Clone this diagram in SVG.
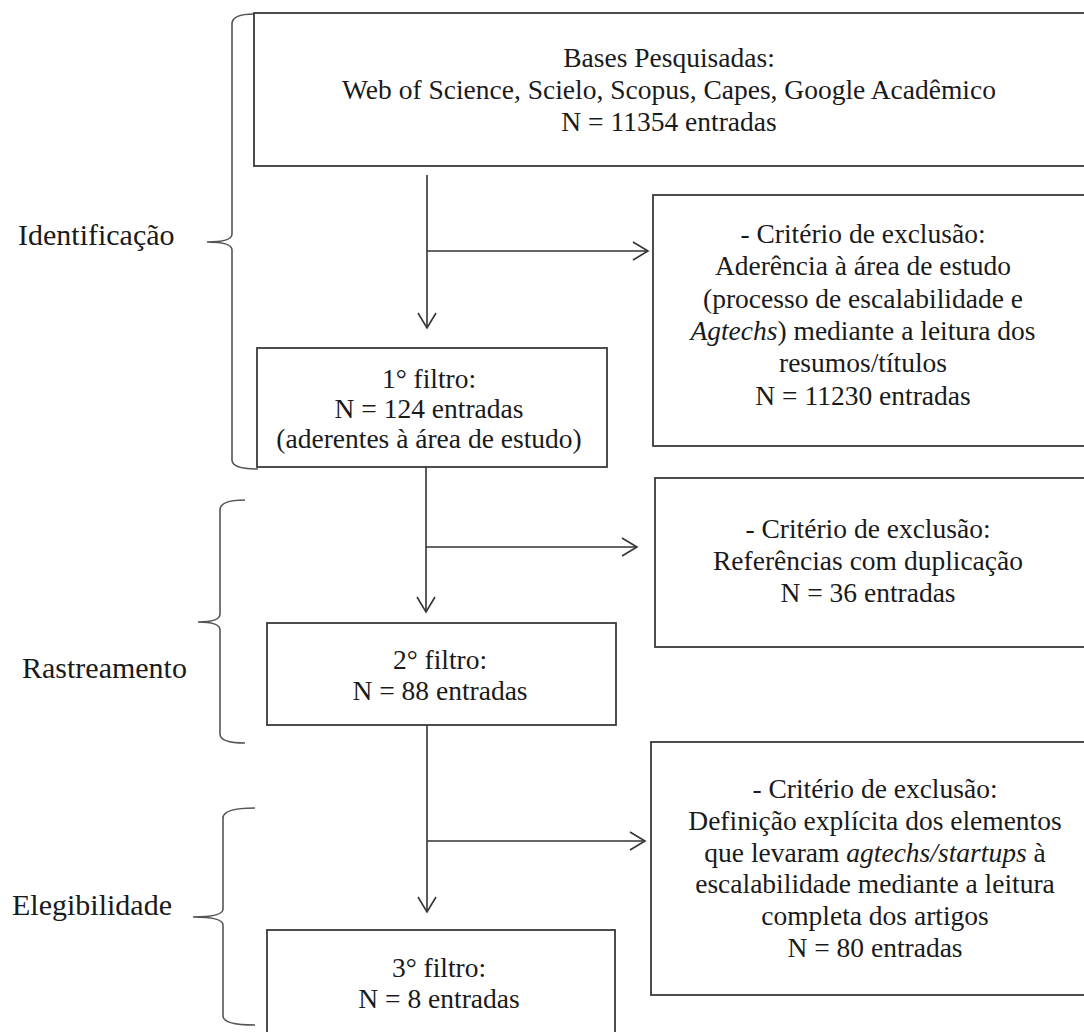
<svg xmlns="http://www.w3.org/2000/svg" width="1084" height="1032" viewBox="0 0 1084 1032">
<defs>
<style>
.box{fill:#fff;stroke:#3a3a3a;stroke-width:1.8}
.t{font-family:"Liberation Serif","Times New Roman",serif;font-size:27.5px;fill:#1a1a1a;text-anchor:middle}
.lbl{font-family:"Liberation Serif","Times New Roman",serif;font-size:30px;fill:#1a1a1a}
.ln{fill:none;stroke:#333;stroke-width:1.6}
.br{fill:none;stroke:#555;stroke-width:1.6}
</style>
<marker id="ah" viewBox="0 0 20 20" refX="16" refY="10" markerWidth="20" markerHeight="20" markerUnits="userSpaceOnUse" orient="auto">
<path d="M1,1 L16,10 L1,19" fill="none" stroke="#333" stroke-width="1.6"/>
</marker>
</defs>
<rect width="1084" height="1032" fill="#fff"/>

<g id="labels">
<text class="lbl" x="18" y="245">Identificação</text>
<text class="lbl" x="22" y="678">Rastreamento</text>
<text class="lbl" x="12" y="915">Elegibilidade</text>
</g>

<g id="braces">
<path class="br" d="M254,14 Q232,14 232,24 L232,234 Q232,242 207,242 Q232,242 232,250 L232,460 Q232,469 258,469"/>
<path class="br" d="M245,500 Q220,500 220,510 L220,614 Q220,622 198,622 Q220,622 220,630 L220,734 Q220,743 245,743"/>
<path class="br" d="M255,808 Q223,808 223,818 L223,909 Q223,917 193,917 Q223,917 223,925 L223,1016 Q223,1025 255,1025"/>
</g>

<g id="node-bases">
<rect class="box" x="254" y="13" width="840" height="153"/>
<text class="t" x="669" y="67">Bases Pesquisadas:</text>
<text class="t" x="669" y="99">Web of Science, Scielo, Scopus, Capes, Google Acadêmico</text>
<text class="t" x="669" y="131">N = 11354 entradas</text>
</g>

<g id="node-excl1">
<rect class="box" x="653" y="195" width="440" height="251"/>
<text class="t" x="863" y="243">- Critério de exclusão:</text>
<text class="t" x="863" y="275">Aderência à área de estudo</text>
<text class="t" x="863" y="308">(processo de escalabilidade e</text>
<text class="t" x="863" y="340"><tspan font-style="italic">Agtechs</tspan>) mediante a leitura dos</text>
<text class="t" x="863" y="372">resumos/títulos</text>
<text class="t" x="863" y="405">N = 11230 entradas</text>
</g>

<g id="node-filtro1">
<rect class="box" x="257" y="348" width="350" height="119"/>
<text class="t" x="429" y="388">1° filtro:</text>
<text class="t" x="429" y="418">N = 124 entradas</text>
<text class="t" x="429" y="448">(aderentes à área de estudo)</text>
</g>

<g id="node-excl2">
<rect class="box" x="655" y="478" width="440" height="169"/>
<text class="t" x="868" y="538">- Critério de exclusão:</text>
<text class="t" x="868" y="570">Referências com duplicação</text>
<text class="t" x="868" y="602">N = 36 entradas</text>
</g>

<g id="node-filtro2">
<rect class="box" x="267" y="623" width="349" height="102"/>
<text class="t" x="440" y="669">2° filtro:</text>
<text class="t" x="440" y="700">N = 88 entradas</text>
</g>

<g id="node-excl3">
<rect class="box" x="651" y="742" width="450" height="253"/>
<text class="t" x="875" y="798">- Critério de exclusão:</text>
<text class="t" x="875" y="830">Definição explícita dos elementos</text>
<text class="t" x="875" y="862">que levaram <tspan font-style="italic">agtechs/startups</tspan> à</text>
<text class="t" x="875" y="893">escalabilidade mediante a leitura</text>
<text class="t" x="875" y="925">completa dos artigos</text>
<text class="t" x="875" y="957">N = 80 entradas</text>
</g>

<g id="node-filtro3">
<rect class="box" x="267" y="930" width="348" height="120"/>
<text class="t" x="439" y="977">3° filtro:</text>
<text class="t" x="439" y="1008">N = 8 entradas</text>
</g>

<g id="connectors">
<line class="ln" x1="427" y1="175" x2="427" y2="328" marker-end="url(#ah)"/>
<line class="ln" x1="427" y1="251" x2="648" y2="251" marker-end="url(#ah)"/>
<line class="ln" x1="426" y1="467" x2="426" y2="612" marker-end="url(#ah)"/>
<line class="ln" x1="426" y1="547" x2="637" y2="547" marker-end="url(#ah)"/>
<line class="ln" x1="427" y1="725" x2="427" y2="912" marker-end="url(#ah)"/>
<line class="ln" x1="427" y1="841" x2="645" y2="841" marker-end="url(#ah)"/>
</g>
</svg>
